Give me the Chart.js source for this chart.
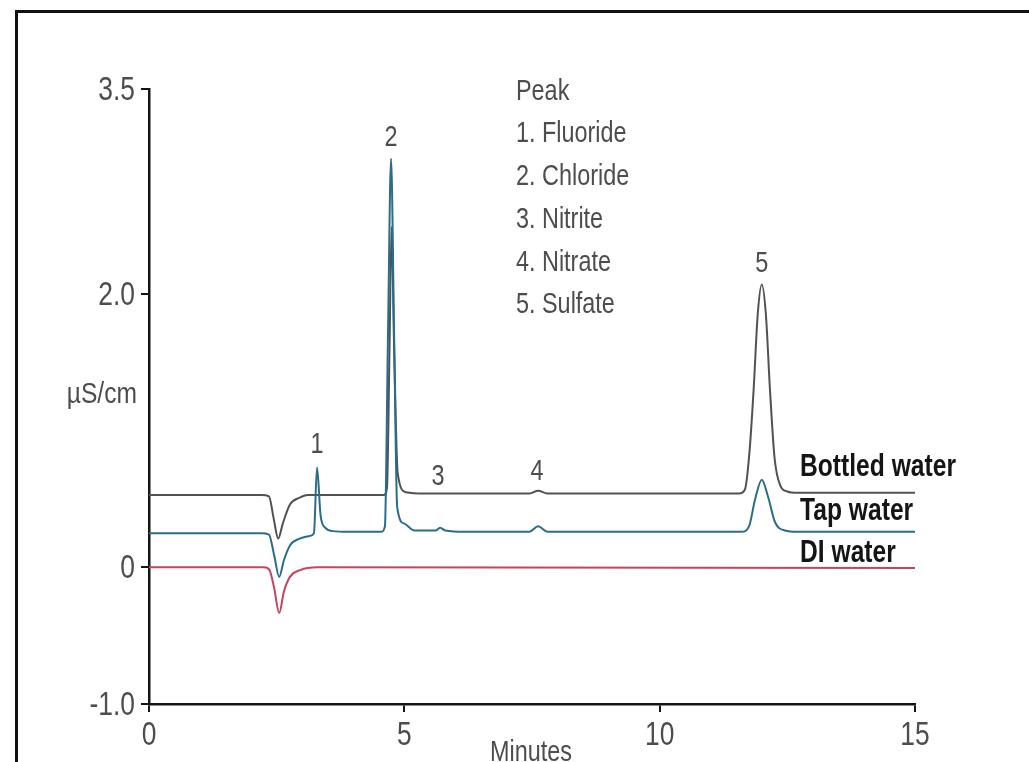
<!DOCTYPE html>
<html lang="en">
<head>
<meta charset="UTF-8">
<title>Anions in water samples</title>
<style>
  html, body { margin: 0; padding: 0; background: #fff; overflow: hidden; }
  .frame {
    position: absolute; left: 15px; top: 10px;
    width: 1100px; height: 850px;
    border: 3px solid #111;
  }
  .chartBox { position: absolute; left: 0; top: 0; width: 1029px; height: 762px; }
</style>
<script src="https://cdn.jsdelivr.net/npm/chart.js@4.4.1/dist/chart.umd.min.js"></script>
</head>
<body>
<div class="frame"></div>
<div class="chartBox"><canvas id="chrom" width="1029" height="762"></canvas></div>

<script>
// x ticks (minutes) and y ticks (µS/cm)
const xTicks = [0, 5, 10, 15];
const xTickLabels = ['0', '5', '10', '15'];
const yTicks = [3.5, 2.0, 0, -1.0];
const yTickLabels = ['3.5', '2.0', '0', '-1.0'];

const seriesNames = ['Bottled water', 'Tap water', 'DI water'];
const peakNames = ['Fluoride', 'Chloride', 'Nitrite', 'Nitrate', 'Sulfate'];
const peakTimes = [3.29, 4.74, 5.66, 7.6, 12.0];

// tap water trace
const tapTime = [0, 2.2, 2.35, 2.45, 2.55, 2.64, 2.76, 2.95, 3.15, 3.23,
                 3.29, 3.36, 3.45, 3.6, 3.9, 4.55, 4.62, 4.68, 4.74, 4.8,
                 4.86, 5.0, 5.2, 5.5, 5.62, 5.7, 5.8, 6.2, 7.45, 7.62,
                 7.8, 11.6, 11.75, 11.87, 12.0, 12.12, 12.26, 12.45, 12.7, 15];
const tapSignal = [0.25, 0.25, 0.24, 0.09, -0.07, 0.05, 0.16, 0.21, 0.23, 0.25,
                   0.73, 0.38, 0.29, 0.265, 0.26, 0.26, 0.3, 1.7, 2.99, 1.7,
                   0.44, 0.32, 0.27, 0.27, 0.27, 0.29, 0.27, 0.26, 0.26, 0.3,
                   0.26, 0.26, 0.3, 0.5, 0.64, 0.52, 0.33, 0.27, 0.26, 0.26];

// bottled water trace
const bottledTime = [0, 2.2, 2.35, 2.44, 2.53, 2.62, 2.76, 2.95, 3.1, 4.6,
                     4.66, 4.71, 4.75, 4.8, 4.87, 5.03, 5.4, 7.45, 7.62, 7.8,
                     11.55, 11.67, 11.76, 11.84, 11.92, 12.0, 12.08, 12.16, 12.25, 12.36,
                     12.5, 12.7, 15];
const bottledSignal = [0.53, 0.53, 0.52, 0.36, 0.21, 0.32, 0.46, 0.51, 0.53, 0.53,
                       0.58, 1.6, 2.49, 1.6, 0.69, 0.55, 0.54, 0.54, 0.56, 0.54,
                       0.54, 0.57, 0.85, 1.3, 1.85, 2.07, 1.85, 1.3, 0.8, 0.6,
                       0.555, 0.545, 0.545];

// DI water trace
const diTime = [0, 2.25, 2.36, 2.45, 2.55, 2.64, 2.76, 2.96, 3.3, 15];
const diSignal = [0, 0, -0.02, -0.15, -0.335, -0.18, -0.07, -0.02, 0, -0.005];

function pts(t, v) { return t.map((x, i) => ({ x: x, y: v[i] })); }

const REG = "'Liberation Sans', Arial, sans-serif";

// condensed text, drawn squeezed horizontally
function squeezeText(ctx, text, x, y, font, color, align, sq) {
    ctx.save();
    ctx.translate(x, y);
    ctx.scale(sq, 1);
    ctx.font = font;
    ctx.fillStyle = color;
    ctx.textAlign = align;
    ctx.textBaseline = 'alphabetic';
    ctx.fillText(text, 0, 0);
    ctx.restore();
}

const textPlugin = {
    id: 'chromText',
    afterDraw(chart) {
        const ctx = chart.ctx;
        const xs = chart.scales.x, ys = chart.scales.y;
        const grey = '#4d4d4d';
        const f = '30px ' + REG;
        const ft = '33px ' + REG;

        // tick labels, placed by the scales
        yTicks.forEach((v, i) => {
            squeezeText(ctx, yTickLabels[i], 135, ys.getPixelForValue(v) + 11, ft, grey, 'right', 0.8);
        });
        xTicks.forEach((v, i) => {
            squeezeText(ctx, xTickLabels[i], xs.getPixelForValue(v), 745, ft, grey, 'center', 0.8);
        });

        // peak list
        squeezeText(ctx, 'Peak', 516, 99.5, f, grey, 'left', 0.78);
        peakNames.forEach((n, i) => {
            squeezeText(ctx, (i + 1) + '. ' + n, 516, 99.5 + 42.75 * (i + 1), f, grey, 'left', 0.78);
        });

        // peak numbers over the traces
        const labelHeights = [0.84, 3.08, 0.6, 0.64, 2.16];
        peakTimes.forEach((t, i) => {
            squeezeText(ctx, String(i + 1), xs.getPixelForValue(t), ys.getPixelForValue(labelHeights[i]),
                        f, grey, 'center', 0.78);
        });

        // trace names
        const fb = 'bold 32px ' + REG;
        const nameBase = [476, 520, 562];
        seriesNames.forEach((n, i) => {
            squeezeText(ctx, n, 800, nameBase[i], fb, '#151515', 'left', 0.77);
        });

        // axis titles
        squeezeText(ctx, 'µS/cm', 137, 403, f, grey, 'right', 0.82);
        squeezeText(ctx, 'Minutes', 531, 761, f, grey, 'center', 0.78);
    }
};

const axisColor = '#151515';

const config = {
    type: 'line',
    data: {
        datasets: [
            {
                label: seriesNames[1],
                data: pts(tapTime, tapSignal),
                borderColor: '#2b6d88',
                borderWidth: 2,
                pointRadius: 0,
                cubicInterpolationMode: 'monotone'
            },
            {
                label: seriesNames[0],
                data: pts(bottledTime, bottledSignal),
                borderColor: '#525252',
                borderWidth: 2,
                pointRadius: 0,
                cubicInterpolationMode: 'monotone'
            },
            {
                label: seriesNames[2],
                data: pts(diTime, diSignal),
                borderColor: '#c7445e',
                borderWidth: 2,
                pointRadius: 0,
                cubicInterpolationMode: 'monotone'
            }
        ]
    },
    options: {
        responsive: false,
        animation: false,
        layout: { padding: { top: 89, right: 114, left: 0, bottom: 0 } },
        plugins: {
            legend: { display: false },
            tooltip: { enabled: false }
        },
        scales: {
            x: {
                type: 'linear',
                min: 0,
                max: 15,
                afterBuildTicks: s => { s.ticks = xTicks.map(v => ({ value: v })); },
                afterFit: s => { s.height = 58; },
                grid: { drawOnChartArea: false, drawTicks: true, tickLength: 8, color: axisColor, lineWidth: 2 },
                border: { display: true, color: axisColor, width: 2.5 },
                ticks: { display: false, autoSkip: false }
            },
            y: {
                type: 'linear',
                min: -1,
                max: 3.5,
                afterBuildTicks: s => { s.ticks = yTicks.map(v => ({ value: v })); },
                afterFit: s => { s.width = 149; },
                grid: { drawOnChartArea: false, drawTicks: true, tickLength: 8, color: axisColor, lineWidth: 2 },
                border: { display: true, color: axisColor, width: 2.5 },
                ticks: { display: false, autoSkip: false }
            }
        }
    },
    plugins: [textPlugin]
};

const chromChart = new Chart(document.getElementById('chrom'), config);
</script>
</body>
</html>
